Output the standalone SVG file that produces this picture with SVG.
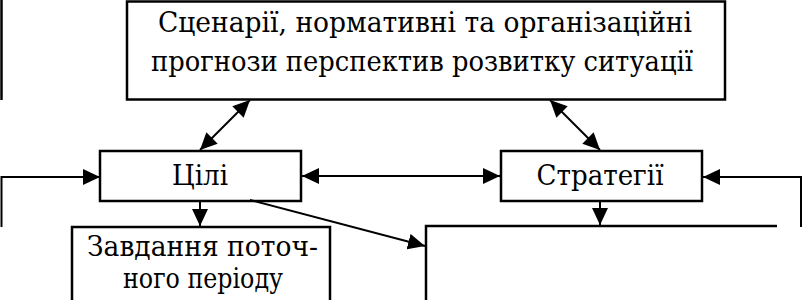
<svg xmlns="http://www.w3.org/2000/svg" width="803" height="300" viewBox="0 0 803 300">
<defs>
<marker id="ah" viewBox="0 0 17 16" markerWidth="17" markerHeight="16" refX="17" refY="8" orient="auto-start-reverse" markerUnits="userSpaceOnUse">
<path d="M0,0 L17,8 L0,16 z" fill="#000"/>
</marker>
<style>
.box{fill:#fff;stroke:#000;stroke-width:2.5}
.edge{fill:none;stroke:#000;stroke-width:2.5}
.t{font-family:"DejaVu Serif","Liberation Serif",serif;font-size:28px;fill:#000;text-anchor:middle}
.c{fill:none;stroke:#000;stroke-width:2}
</style>
</defs>
<g id="left-edge"><line class="edge" x1="1.5" y1="0" x2="1.5" y2="100"/></g>
<g id="scenarios">
<rect class="box" x="127" y="1.5" width="598" height="98"/>
<text class="t" x="425" y="32" textLength="534" lengthAdjust="spacingAndGlyphs">Сценарії, нормативні та організаційні</text>
<text class="t" x="422" y="71" textLength="542" lengthAdjust="spacingAndGlyphs">прогнози перспектив розвитку ситуації</text>
</g>
<g id="goals">
<rect class="box" x="100" y="151" width="201" height="50"/>
<text class="t" x="200" y="185" textLength="56" lengthAdjust="spacingAndGlyphs">Цілі</text>
</g>
<g id="strategies">
<rect class="box" x="501" y="151" width="201" height="50"/>
<text class="t" x="600" y="185" textLength="127" lengthAdjust="spacingAndGlyphs">Стратегії</text>
</g>
<g id="tasks">
<rect class="box" x="72" y="227" width="258" height="90"/>
<text class="t" x="202.5" y="256" textLength="231" lengthAdjust="spacingAndGlyphs">Завдання поточ-</text>
<text class="t" x="203" y="288" textLength="160" lengthAdjust="spacingAndGlyphs">ного періоду</text>
</g>
<g id="right-box"><path class="edge" d="M426,300 V226 H777"/></g>
<g id="connectors">
<line class="c" x1="250" y1="100" x2="200" y2="150" marker-start="url(#ah)" marker-end="url(#ah)"/>
<line class="c" x1="550" y1="100" x2="600" y2="150" marker-start="url(#ah)" marker-end="url(#ah)"/>
<polyline class="c" points="1.5,227 1.5,177 100,177" marker-end="url(#ah)"/>
<line class="c" x1="302" y1="176" x2="500" y2="176" marker-start="url(#ah)" marker-end="url(#ah)"/>
<polyline class="c" points="801,227 801,177 703,177" marker-end="url(#ah)"/>
<line class="c" x1="200" y1="202" x2="200" y2="226" marker-end="url(#ah)"/>
<line class="c" x1="600" y1="202" x2="600" y2="225" marker-end="url(#ah)"/>
<line class="c" x1="250" y1="200" x2="425" y2="246" marker-end="url(#ah)"/>
</g>
</svg>
